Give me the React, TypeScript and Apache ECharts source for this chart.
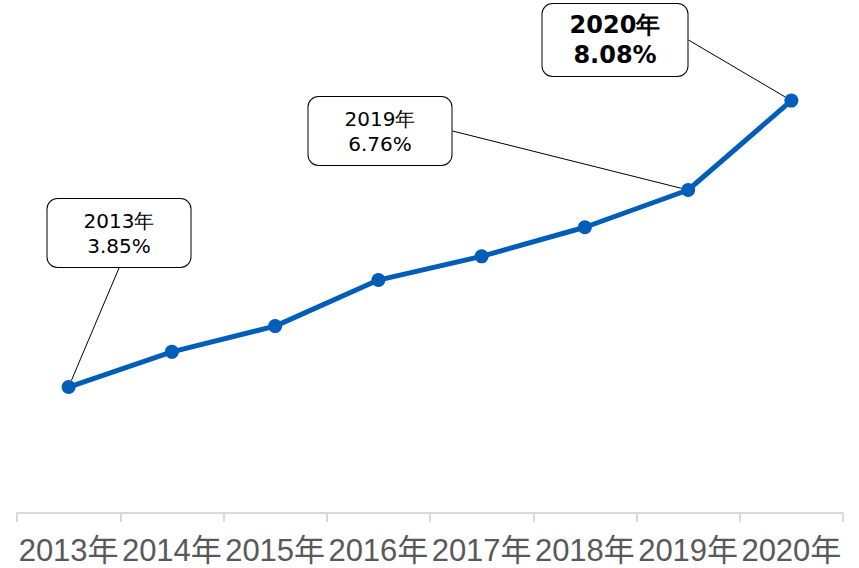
import React, { useEffect, useRef } from "react";
import * as echarts from "echarts";

const categories = ["2013年", "2014年", "2015年", "2016年", "2017年", "2018年", "2019年", "2020年"];
const values = [3.85, 4.37, 4.75, 5.43, 5.78, 6.21, 6.76, 8.08];
const calloutIndexes = [0, 6, 7];
const boldIndex = 7;
// callout box centres, in pixels
const calloutCentres: Record<number, [number, number]> = {
  0: [119, 233],
  6: [380, 131],
  7: [615, 40],
};

export default function App() {
  const ref = useRef<HTMLDivElement>(null);
  useEffect(() => {
    if (!ref.current) return;
    const chart = echarts.init(ref.current, null, { renderer: "svg" });
    const data = values.map((v, i) => {
      if (!calloutIndexes.includes(i)) return { value: v };
      const bold = i === boldIndex;
      return {
        value: v,
        label: {
          show: true,
          formatter: `{t|${categories[i]}}\n{t|${v.toFixed(2)}%}`,
          backgroundColor: "#ffffff",
          borderColor: "#000000",
          borderWidth: 1,
          borderRadius: 10,
          width: bold ? 105 : 103,
          padding: bold ? [6, 20, 6, 20] : [9, 20, 9, 20],
          align: "center",
          rich: {
            t: {
              fontFamily: "DejaVu Sans",
              fontSize: bold ? 24 : 20,
              fontWeight: bold ? "bold" : "normal",
              lineHeight: bold ? 30 : 25,
              color: "#000000",
              align: "center",
            },
          },
        },
        labelLine: { show: true, lineStyle: { color: "#000000", width: 1 } },
      };
    });
    chart.setOption({
      animation: false,
      grid: { left: 17, right: 16, top: 39, bottom: 55, containLabel: false },
      xAxis: {
        type: "category",
        data: categories,
        boundaryGap: true,
        axisLine: { show: true, lineStyle: { color: "#d9d9d9", width: 2 } },
        axisTick: { show: true, length: 9, lineStyle: { color: "#d9d9d9", width: 2 } },
        axisLabel: {
          interval: 0,
          margin: 22,
          fontSize: 31,
          color: "#595959",
          fontFamily: "Liberation Sans, Noto Sans CJK JP",
        },
      },
      yAxis: {
        type: "value",
        min: 1.99,
        max: 8.99,
        show: false,
        splitLine: { show: false },
      },
      series: [
        {
          type: "line",
          data,
          symbol: "circle",
          symbolSize: 14,
          lineStyle: { color: "#005EB8", width: 5 },
          itemStyle: { color: "#005EB8" },
          labelLayout: (params: any) => {
            const c = calloutCentres[params.dataIndex];
            if (!c) return {};
            return { x: c[0], y: c[1], align: "center", verticalAlign: "middle" };
          },
        },
      ],
    });
    return () => chart.dispose();
  }, []);
  return <div ref={ref} style={{ width: 859, height: 568, position: "absolute", left: 0, top: 0 }} />;
}
